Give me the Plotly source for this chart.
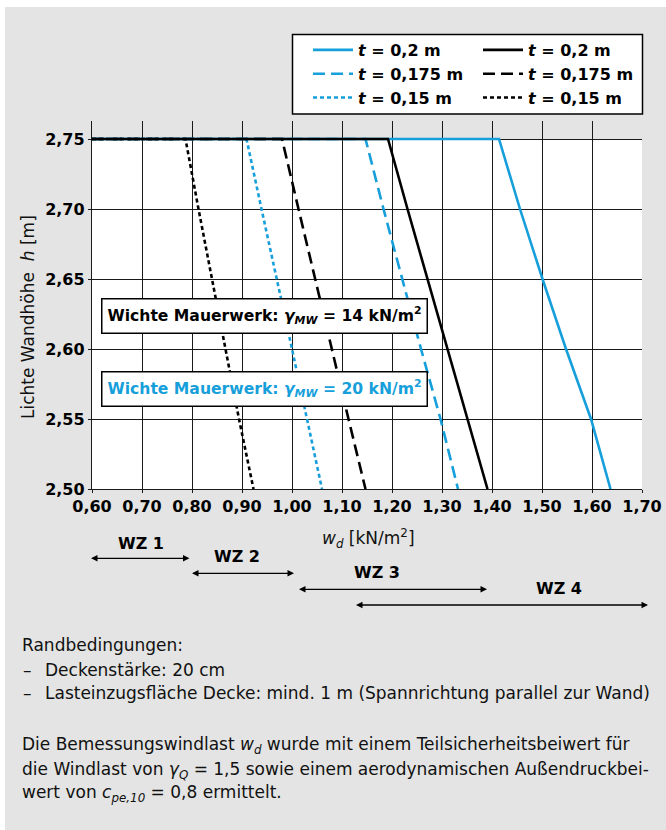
import plotly.graph_objects as go

# ---------------- data ----------------
h_levels = [2.75, 2.75, 2.70, 2.65, 2.60, 2.55, 2.50]

wd_20_t200 = [0.60, 1.414, 1.456, 1.501, 1.548, 1.598, 1.637]
wd_20_t175 = [0.60, 1.147, 1.183, 1.220, 1.258, 1.297, 1.332]
wd_20_t150 = [0.60, 0.909, 0.939, 0.970, 1.000, 1.030, 1.060]

wd_14_t200 = [0.60, 1.192, 1.231, 1.271, 1.311, 1.350, 1.391]
wd_14_t175 = [0.60, 0.980, 1.013, 1.046, 1.079, 1.113, 1.147]
wd_14_t150 = [0.60, 0.787, 0.813, 0.840, 0.866, 0.894, 0.923]

series_names = ["<i>t</i> = 0,2 m", "<i>t</i> = 0,175 m", "<i>t</i> = 0,15 m"]

wz_labels = ["WZ 1", "WZ 2", "WZ 3", "WZ 4"]
wz_start = [0.595, 0.797, 1.011, 1.125]
wz_end = [0.795, 1.004, 1.390, 1.712]

x_ticks = [0.60, 0.70, 0.80, 0.90, 1.00, 1.10, 1.20, 1.30, 1.40, 1.50, 1.60, 1.70]
y_ticks = [2.50, 2.55, 2.60, 2.65, 2.70, 2.75]

# ---------------- layout helpers ----------------
W_FIG, H_FIG = 666, 830
L, R, T, B = 92, 24, 121, 341
PW = W_FIG - L - R
PH = H_FIG - T - B


def px_x(px):
    return (px - L) / PW


def px_y(py):
    return (H_FIG - B - py) / PH


BLUE = "#169fda"
FONT = "DejaVu Sans"
GRAY = "#e3e4e3"

fig = go.Figure()

blue_sets = [wd_20_t200, wd_20_t175, wd_20_t150]
black_sets = [wd_14_t200, wd_14_t175, wd_14_t150]
dashes = ["solid", "12px,6px", "4px,3px"]

for xs, nm, ds in zip(blue_sets, series_names, dashes):
    fig.add_trace(go.Scatter(x=xs, y=h_levels, mode="lines", name=nm,
                             line=dict(color=BLUE, width=2.6, dash=ds),
                             legend="legend", hoverinfo="skip"))
for xs, nm, ds in zip(black_sets, series_names, dashes):
    fig.add_trace(go.Scatter(x=xs, y=h_levels, mode="lines", name=nm,
                             line=dict(color="black", width=2.6, dash=ds),
                             legend="legend2", hoverinfo="skip"))

# background panel
fig.add_shape(type="rect", xref="paper", yref="paper",
              x0=px_x(5), x1=px_x(W_FIG + 5), y0=px_y(H_FIG + 5), y1=px_y(7),
              fillcolor=GRAY, line_width=0, layer="below")
# white plotting field
fig.add_shape(type="rect", xref="x", yref="y", x0=0.60, x1=1.70, y0=2.50, y1=2.75,
              fillcolor="white", line_width=0, layer="below")
# legend frame
fig.add_shape(type="rect", xref="paper", yref="paper",
              x0=px_x(292.5), x1=px_x(642.5), y0=px_y(114), y1=px_y(34.5),
              fillcolor="white", line=dict(color="black", width=1.5), layer="above")

tick_font = dict(family=FONT, size=16, color="black", weight="bold")

fig.update_xaxes(range=[0.60, 1.70], tickvals=x_ticks, tickformat=".2f",
                 showgrid=True, gridcolor="#1a1a1a", gridwidth=1.3,
                 showline=True, linecolor="#1a1a1a", linewidth=1.3, mirror=False,
                 ticks="outside", ticklen=3, tickcolor="#1a1a1a",
                 tickfont=tick_font, zeroline=False, fixedrange=True)
fig.update_yaxes(range=[2.50, 2.50 + PH / 1400.0], tickvals=y_ticks, tickformat=".2f",
                 showgrid=True, gridcolor="#1a1a1a", gridwidth=1.3,
                 showline=True, linecolor="#1a1a1a", linewidth=1.3,
                 ticks="outside", ticklen=3, tickcolor="#1a1a1a",
                 tickfont=tick_font, zeroline=False, fixedrange=True)

ann = []
# axis titles
ann.append(dict(text="<i>w</i><sub><i>d</i></sub> [kN/m<sup>2</sup>]", xref="paper", yref="paper",
                x=px_x(368), y=px_y(538), xanchor="center", yanchor="middle", showarrow=False,
                font=dict(family=FONT, size=17, color="#111111")))
ann.append(dict(text="Lichte Wandhöhe  <i>h</i> [m]", xref="paper", yref="paper",
                x=px_x(28), y=px_y(317), xanchor="center", yanchor="middle", showarrow=False,
                textangle=-90, font=dict(family=FONT, size=17, color="#111111")))

# boxes
box_font = dict(family=FONT, size=15.6, weight="bold")
ann.append(dict(text="Wichte Mauerwerk: <i>γ</i><sub><i>MW</i></sub> = 14 kN/m<sup>2</sup>",
                xref="x", yref="paper", x=0.617, y=px_y(315.5), xanchor="left", yanchor="middle",
                showarrow=False, bgcolor="white", bordercolor="black", borderwidth=1.5, borderpad=5,
                font=dict(color="black", **box_font)))
ann.append(dict(text="Wichte Mauerwerk: <i>γ</i><sub><i>MW</i></sub> = 20 kN/m<sup>2</sup>",
                xref="x", yref="paper", x=0.617, y=px_y(388.5), xanchor="left", yanchor="middle",
                showarrow=False, bgcolor="white", bordercolor="black", borderwidth=1.5, borderpad=5,
                font=dict(color=BLUE, **box_font)))

# wind zones
arrow_y = [558.3, 573.3, 589.3, 605.0]
label_y = [543.3, 556.7, 572.0, 588.0]
label_x = [0.697, 0.889, 1.170, 1.533]
for lab, xs, xe, ay, ly, lx in zip(wz_labels, wz_start, wz_end, arrow_y, label_y, label_x):
    ann.append(dict(text="", xref="x", yref="paper", x=xe, y=px_y(ay),
                    axref="x", ayref="pixel", ax=xs, ay=0,
                    showarrow=True, arrowhead=2, arrowside="end+start", arrowsize=1,
                    arrowwidth=1.3, arrowcolor="black", standoff=0, startstandoff=0))
    ann.append(dict(text=lab, xref="x", yref="paper", x=lx,
                    y=px_y(ly), xanchor="center", yanchor="middle", showarrow=False,
                    font=dict(family=FONT, size=16, color="black", weight="bold")))

body_font = dict(family=FONT, size=17, color="#111111")
body_lines = [
    (20, 645, "Randbedingungen:"),
    (21, 670, "–"),
    (43, 670, "Deckenstärke: 20 cm"),
    (21, 693, "–"),
    (43, 693, "Lasteinzugsfläche Decke: mind. 1 m (Spannrichtung parallel zur Wand)"),
    (20, 745, "Die Bemessungswindlast <i>w</i><sub><i>d</i></sub> wurde mit einem Teilsicherheitsbeiwert für"),
    (20, 770, "die Windlast von <i>γ</i><sub><i>Q</i></sub> = 1,5 sowie einem aerodynamischen Außendruckbei-"),
    (20, 793, "wert von <i>c</i><sub><i>pe,10</i></sub> = 0,8 ermittelt."),
]
for bx, by, txt in body_lines:
    ann.append(dict(text=txt, xref="paper", yref="paper", x=px_x(bx), y=px_y(by),
                    xanchor="left", yanchor="middle", showarrow=False, align="left",
                    font=body_font))

leg_common = dict(xanchor="left", yanchor="top", bgcolor="rgba(0,0,0,0)", borderwidth=0,
                  font=dict(family=FONT, size=16, color="black", weight="bold"),
                  itemwidth=40, orientation="v", tracegroupgap=0)
fig.update_layout(
    width=W_FIG, height=H_FIG,
    margin=dict(l=L, r=R, t=T, b=B, pad=0, autoexpand=False),
    paper_bgcolor="white", plot_bgcolor="rgba(0,0,0,0)",
    separators=",.",
    showlegend=True,
    legend=dict(x=px_x(308), y=px_y(33), **leg_common),
    legend2=dict(x=px_x(478), y=px_y(33), **leg_common),
    annotations=ann,
)

fig.write_html("out.html", config={"displayModeBar": False},
               post_script="document.body.style.margin='0';")
